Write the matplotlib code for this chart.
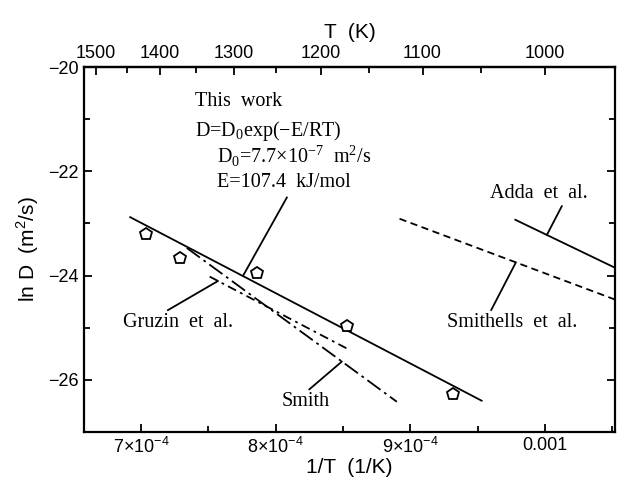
import matplotlib
matplotlib.use('Agg')
import matplotlib.pyplot as plt
import numpy as np
from matplotlib.ticker import FixedLocator, FixedFormatter

plt.rcParams['font.family'] = 'Liberation Sans'
plt.rcParams['mathtext.fontset'] = 'custom'
plt.rcParams['mathtext.rm'] = 'Liberation Sans'

# measured points of this work (1/T, ln D)
inv_T_pts = [7.04e-4, 7.29e-4, 7.86e-4, 8.53e-4, 9.32e-4]
lnD_pts = [-23.20, -23.66, -23.95, -24.96, -26.28]

# lines: endpoints
this_work_x = [6.92e-4, 9.53e-4]
this_work_y = [-22.88, -26.40]
smith_x = [7.34e-4, 8.90e-4]
smith_y = [-23.47, -26.42]
gruzin_x = [7.51e-4, 8.53e-4]
gruzin_y = [-24.02, -25.40]
adda_x = [9.78e-4, 1.052e-3]
adda_y = [-22.93, -23.85]
smithells_x = [8.92e-4, 1.052e-3]
smithells_y = [-22.91, -24.46]

x_major = [7e-4, 8e-4, 9e-4, 1e-3]
x_major_labels = [r'7$\times$10$^{\mathregular{-4}}$', r'8$\times$10$^{\mathregular{-4}}$',
                  r'9$\times$10$^{\mathregular{-4}}$', '0.001']
x_minor = [7.5e-4, 8.5e-4, 9.5e-4, 10.5e-4]
T_major = [1500, 1400, 1300, 1200, 1100, 1000]
T_minor = [1450, 1350, 1250, 1150, 1050, 950]
y_major = [-20, -22, -24, -26]
y_minor = [-21, -23, -25, -27]

serif = 'Liberation Serif'
fs_note = 14.5

fig = plt.figure(figsize=(6.18, 4.79), dpi=100)
ax = fig.add_axes([84 / 618, 1 - 432 / 479, (615 - 84) / 618, (432 - 67) / 479])

lw = 1.3
ax.plot(this_work_x, this_work_y, color='black', lw=lw)
ax.plot(smith_x, smith_y, color='black', lw=lw, linestyle=(0, (9, 2.5, 1.5, 2.5)))
ax.plot(gruzin_x, gruzin_y, color='black', lw=lw, linestyle=(0, (5, 2.5, 1.5, 2.5)))
ax.plot(adda_x, adda_y, color='black', lw=lw)
ax.plot(smithells_x, smithells_y, color='black', lw=lw, linestyle=(0, (4, 2.5)))
ax.plot(inv_T_pts, lnD_pts, linestyle='none', marker='p', markersize=9,
        markerfacecolor='white', markeredgecolor='black', markeredgewidth=1.3)

ax.set_xlim(6.577e-4, 1.052e-3)
ax.set_ylim(-27, -20)


def on_line(xs, ys, x):
    return x, float(np.interp(x, xs, ys))


leader = dict(arrowstyle='-', color='black', lw=1.3, shrinkA=0, shrinkB=0)

# this work text block
ax.text(7.40e-4, -20.67, 'This  work', family=serif, fontsize=fs_note, va='center')
ax.text(7.40e-4, -21.23, r'D=D$_{\mathregular{0}}$exp(−E/RT)', family=serif,
        fontsize=fs_note, va='center')
ax.text(7.565e-4, -21.72, r'D$_{\mathregular{0}}$=7.7×10$^{\mathregular{-7}}$  m$^{\mathregular{2}}$/s',
        family=serif, fontsize=fs_note, va='center')
ax.text(7.565e-4, -22.22, 'E=107.4  kJ/mol', family=serif, fontsize=fs_note, va='center')
ax.annotate('', xy=on_line(this_work_x, this_work_y, 7.757e-4), xytext=(8.084e-4, -22.50),
            arrowprops=leader)

ax.annotate('Gruzin  et  al.', xy=on_line(gruzin_x, gruzin_y, 7.572e-4),
            xytext=(7.278e-4, -24.90), family=serif, fontsize=fs_note,
            ha='center', va='center', arrowprops=dict(leader, relpos=(0.36, 1.0)))
ax.annotate('Smith', xy=on_line(smith_x, smith_y, 8.492e-4),
            xytext=(8.225e-4, -26.42), family=serif, fontsize=fs_note,
            ha='center', va='center', arrowprops=dict(leader, relpos=(0.5, 1.0)))
ax.annotate('Adda  et  al.', xy=on_line(adda_x, adda_y, 1.0014e-3),
            xytext=(9.955e-4, -22.43), family=serif, fontsize=fs_note,
            ha='center', va='center', arrowprops=dict(leader, relpos=(0.75, 0.0)))
ax.annotate('Smithells  et  al.', xy=on_line(smithells_x, smithells_y, 9.784e-4),
            xytext=(9.754e-4, -24.90), family=serif, fontsize=fs_note,
            ha='center', va='center', arrowprops=dict(leader, relpos=(0.33, 1.0)))

# axes styling
for s in ax.spines.values():
    s.set_linewidth(1.6)

ax.xaxis.set_major_locator(FixedLocator(x_major))
ax.xaxis.set_major_formatter(FixedFormatter(x_major_labels))
ax.xaxis.set_minor_locator(FixedLocator(x_minor))
ax.yaxis.set_major_locator(FixedLocator(y_major))
ax.yaxis.set_minor_locator(FixedLocator(y_minor))
ax.tick_params(which='both', direction='in', width=1.3, labelsize=13)
ax.tick_params(axis='x', which='both', top=False)
ax.tick_params(axis='y', which='both', right=True)
ax.tick_params(which='major', length=6)
ax.tick_params(which='minor', length=4)
ax.tick_params(axis='y', which='major', pad=4)

ax.set_xlabel('1/T  (1/K)', fontsize=15, labelpad=1)
ax.set_ylabel('ln D  (m$^{\\mathregular{2}}$/s)', fontsize=15, labelpad=5)


def inv(x):
    x = np.asarray(x, dtype=float)
    with np.errstate(divide='ignore'):
        return 1.0 / x


top = ax.secondary_xaxis('top', functions=(inv, inv))
top.xaxis.set_major_locator(FixedLocator(T_major))
top.xaxis.set_minor_locator(FixedLocator(T_minor))
top.tick_params(which='both', direction='in', width=1.3, labelsize=13)
top.tick_params(which='major', length=6)
top.tick_params(which='minor', length=4)
top.spines['top'].set_linewidth(1.6)
top.set_xlabel('T  (K)', fontsize=15, labelpad=5)

fig.savefig('out.png', dpi=100)
